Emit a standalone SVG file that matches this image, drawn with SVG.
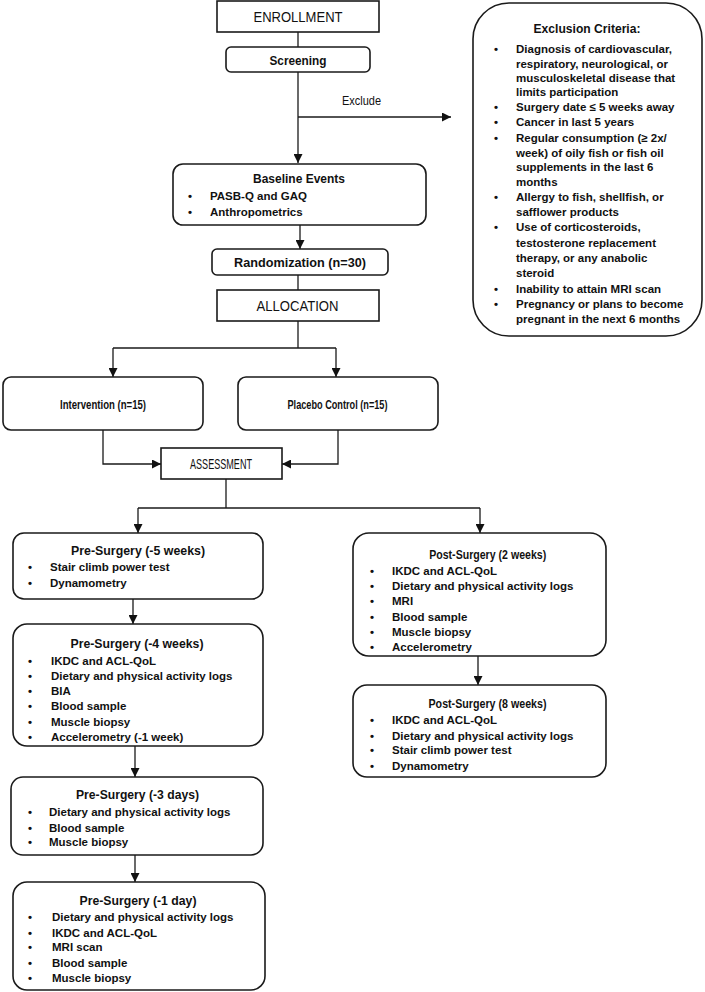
<svg xmlns="http://www.w3.org/2000/svg" width="705" height="992" viewBox="0 0 705 992">
<style>
.bx{fill:#fff;stroke:#1a1a1a;stroke-width:1.6}
.cn{fill:none;stroke:#1a1a1a;stroke-width:1.3}
text{font-family:"Liberation Sans",Arial,sans-serif;fill:#111}
.h{font-size:15px;text-anchor:middle}
.t{font-size:13.5px;font-weight:bold;text-anchor:middle}
.b{font-size:11.5px;font-weight:bold}
.r{font-size:12px}
</style>
<defs>
<marker id="ah" viewBox="0 0 10 10" markerWidth="9" markerHeight="9" refX="10" refY="5" orient="auto" markerUnits="userSpaceOnUse">
<path d="M0,0 L10,5 L0,10 z" fill="#111"/>
</marker>
</defs>
<rect width="705" height="992" fill="#fff"/>

<g id="connectors">
<line class="cn" x1="298" y1="32" x2="298" y2="47"/>
<line class="cn" x1="298" y1="72" x2="298" y2="163" marker-end="url(#ah)"/>
<line class="cn" x1="298" y1="117" x2="451" y2="117" marker-end="url(#ah)"/>
<line class="cn" x1="300" y1="225" x2="300" y2="249" marker-end="url(#ah)"/>
<line class="cn" x1="298" y1="275" x2="298" y2="290"/>
<line class="cn" x1="298" y1="321" x2="298" y2="348"/>
<line class="cn" x1="113" y1="348" x2="336" y2="348"/>
<line class="cn" x1="113" y1="348" x2="113" y2="377" marker-end="url(#ah)"/>
<line class="cn" x1="336" y1="348" x2="336" y2="377" marker-end="url(#ah)"/>
<polyline class="cn" points="103,430 103,464 161,464" marker-end="url(#ah)"/>
<polyline class="cn" points="338,430 338,464 282,464" marker-end="url(#ah)"/>
<line class="cn" x1="226" y1="479" x2="226" y2="508"/>
<line class="cn" x1="138" y1="508" x2="480" y2="508"/>
<line class="cn" x1="138" y1="508" x2="138" y2="533" marker-end="url(#ah)"/>
<line class="cn" x1="480" y1="508" x2="480" y2="533" marker-end="url(#ah)"/>
<line class="cn" x1="133" y1="599" x2="133" y2="624" marker-end="url(#ah)"/>
<line class="cn" x1="135" y1="746" x2="135" y2="777" marker-end="url(#ah)"/>
<line class="cn" x1="135" y1="855" x2="135" y2="882" marker-end="url(#ah)"/>
<line class="cn" x1="478" y1="656" x2="478" y2="685" marker-end="url(#ah)"/>
<text class="r" x="361.5" y="105" text-anchor="middle" textLength="39" lengthAdjust="spacingAndGlyphs">Exclude</text>
</g>

<g id="enrollment">
<rect class="bx" x="217" y="1" width="162" height="31"/>
<text class="h" x="298" y="21.5" textLength="89" lengthAdjust="spacingAndGlyphs">ENROLLMENT</text>
</g>

<g id="screening">
<rect class="bx" x="226" y="47" width="144" height="25" rx="5"/>
<text class="t" x="298" y="64.5" textLength="57" lengthAdjust="spacingAndGlyphs">Screening</text>
</g>

<g id="exclusion">
<rect class="bx" x="473" y="3" width="229" height="333" rx="36"/>
<text class="t" x="587" y="33" textLength="107" lengthAdjust="spacingAndGlyphs">Exclusion Criteria:</text>
<g class="b">
<text x="494" y="53">•</text><text x="516" y="53">Diagnosis of cardiovascular,</text>
<text x="516" y="68">respiratory, neurological, or</text>
<text x="516" y="82">musculoskeletal disease that</text>
<text x="516" y="96">limits participation</text>
<text x="494" y="111">•</text><text x="516" y="111">Surgery date ≤ 5 weeks away</text>
<text x="494" y="126">•</text><text x="516" y="126">Cancer in last 5 years</text>
<text x="494" y="142">•</text><text x="516" y="142">Regular consumption (≥ 2x/</text>
<text x="516" y="157">week) of oily fish or fish oil</text>
<text x="516" y="171">supplements in the last 6</text>
<text x="516" y="186">months</text>
<text x="494" y="201">•</text><text x="516" y="201">Allergy to fish, shellfish, or</text>
<text x="516" y="216">safflower products</text>
<text x="494" y="231">•</text><text x="516" y="231">Use of corticosteroids,</text>
<text x="516" y="247">testosterone replacement</text>
<text x="516" y="262">therapy, or any anabolic</text>
<text x="516" y="277">steroid</text>
<text x="494" y="293">•</text><text x="516" y="293">Inability to attain MRI scan</text>
<text x="494" y="308">•</text><text x="516" y="308">Pregnancy or plans to become</text>
<text x="516" y="323">pregnant in the next 6 months</text>
</g>
</g>

<g id="baseline">
<rect class="bx" x="173" y="164" width="253" height="61" rx="10"/>
<text class="t" x="299" y="183" textLength="92" lengthAdjust="spacingAndGlyphs">Baseline Events</text>
<g class="b">
<text x="188" y="200">•</text><text x="210" y="200">PASB-Q and GAQ</text>
<text x="188" y="216">•</text><text x="210" y="216">Anthropometrics</text>
</g>
</g>

<g id="randomization">
<rect class="bx" x="212" y="249" width="176" height="26" rx="5"/>
<text class="t" x="300" y="267" textLength="132" lengthAdjust="spacingAndGlyphs">Randomization (n=30)</text>
</g>

<g id="allocation">
<rect class="bx" x="217" y="290" width="162" height="31"/>
<text class="h" x="297.5" y="311" textLength="82" lengthAdjust="spacingAndGlyphs">ALLOCATION</text>
</g>

<g id="intervention">
<rect class="bx" x="3" y="377" width="200" height="53" rx="8"/>
<text class="t" x="103" y="408.5" textLength="86" lengthAdjust="spacingAndGlyphs">Intervention (n=15)</text>
</g>

<g id="placebo">
<rect class="bx" x="238" y="377" width="200" height="53" rx="8"/>
<text class="t" x="337.5" y="408.5" textLength="100" lengthAdjust="spacingAndGlyphs">Placebo Control (n=15)</text>
</g>

<g id="assessment">
<rect class="bx" x="161" y="448" width="121" height="31"/>
<text class="h" x="221" y="469" textLength="62" lengthAdjust="spacingAndGlyphs">ASSESSMENT</text>
</g>

<g id="pre5w">
<rect class="bx" x="13" y="533" width="250" height="66" rx="11"/>
<text class="t" x="138" y="555" textLength="134" lengthAdjust="spacingAndGlyphs">Pre-Surgery (-5 weeks)</text>
<g class="b">
<text x="28" y="571">•</text><text x="50" y="571">Stair climb power test</text>
<text x="28" y="587">•</text><text x="50" y="587">Dynamometry</text>
</g>
</g>

<g id="pre4w">
<rect class="bx" x="13" y="624" width="250" height="122" rx="14"/>
<text class="t" x="137" y="648" textLength="133" lengthAdjust="spacingAndGlyphs">Pre-Surgery (-4 weeks)</text>
<g class="b">
<text x="28" y="665">•</text><text x="51" y="665">IKDC and ACL-QoL</text>
<text x="28" y="680">•</text><text x="51" y="680">Dietary and physical activity logs</text>
<text x="28" y="695">•</text><text x="51" y="695">BIA</text>
<text x="28" y="710">•</text><text x="51" y="710">Blood sample</text>
<text x="28" y="726">•</text><text x="51" y="726">Muscle biopsy</text>
<text x="28" y="741">•</text><text x="51" y="741">Accelerometry (-1 week)</text>
</g>
</g>

<g id="pre3d">
<rect class="bx" x="11" y="777" width="252" height="78" rx="12"/>
<text class="t" x="137.5" y="799" textLength="123" lengthAdjust="spacingAndGlyphs">Pre-Surgery (-3 days)</text>
<g class="b">
<text x="28" y="816">•</text><text x="49" y="816">Dietary and physical activity logs</text>
<text x="28" y="832">•</text><text x="49" y="832">Blood sample</text>
<text x="28" y="846">•</text><text x="49" y="846">Muscle biopsy</text>
</g>
</g>

<g id="pre1d">
<rect class="bx" x="13" y="882" width="252" height="108" rx="14"/>
<text class="t" x="138" y="905" textLength="117" lengthAdjust="spacingAndGlyphs">Pre-Surgery (-1 day)</text>
<g class="b">
<text x="28" y="921">•</text><text x="52" y="921">Dietary and physical activity logs</text>
<text x="28" y="937">•</text><text x="52" y="937">IKDC and ACL-QoL</text>
<text x="28" y="951">•</text><text x="52" y="951">MRI scan</text>
<text x="28" y="967">•</text><text x="52" y="967">Blood sample</text>
<text x="28" y="982">•</text><text x="52" y="982">Muscle biopsy</text>
</g>
</g>

<g id="post2w">
<rect class="bx" x="353" y="533" width="253" height="123" rx="16"/>
<text class="t" x="487.7" y="559" textLength="117" lengthAdjust="spacingAndGlyphs">Post-Surgery (2 weeks)</text>
<g class="b">
<text x="370" y="575">•</text><text x="392" y="575">IKDC and ACL-QoL</text>
<text x="370" y="590">•</text><text x="392" y="590">Dietary and physical activity logs</text>
<text x="370" y="605">•</text><text x="392" y="605">MRI</text>
<text x="370" y="621">•</text><text x="392" y="621">Blood sample</text>
<text x="370" y="636">•</text><text x="392" y="636">Muscle biopsy</text>
<text x="370" y="651">•</text><text x="392" y="651">Accelerometry</text>
</g>
</g>

<g id="post8w">
<rect class="bx" x="353" y="685" width="253" height="92" rx="14"/>
<text class="t" x="487.5" y="707.5" textLength="118" lengthAdjust="spacingAndGlyphs">Post-Surgery (8 weeks)</text>
<g class="b">
<text x="370" y="724">•</text><text x="392" y="724">IKDC and ACL-QoL</text>
<text x="370" y="740">•</text><text x="392" y="740">Dietary and physical activity logs</text>
<text x="370" y="754">•</text><text x="392" y="754">Stair climb power test</text>
<text x="370" y="770">•</text><text x="392" y="770">Dynamometry</text>
</g>
</g>
</svg>
